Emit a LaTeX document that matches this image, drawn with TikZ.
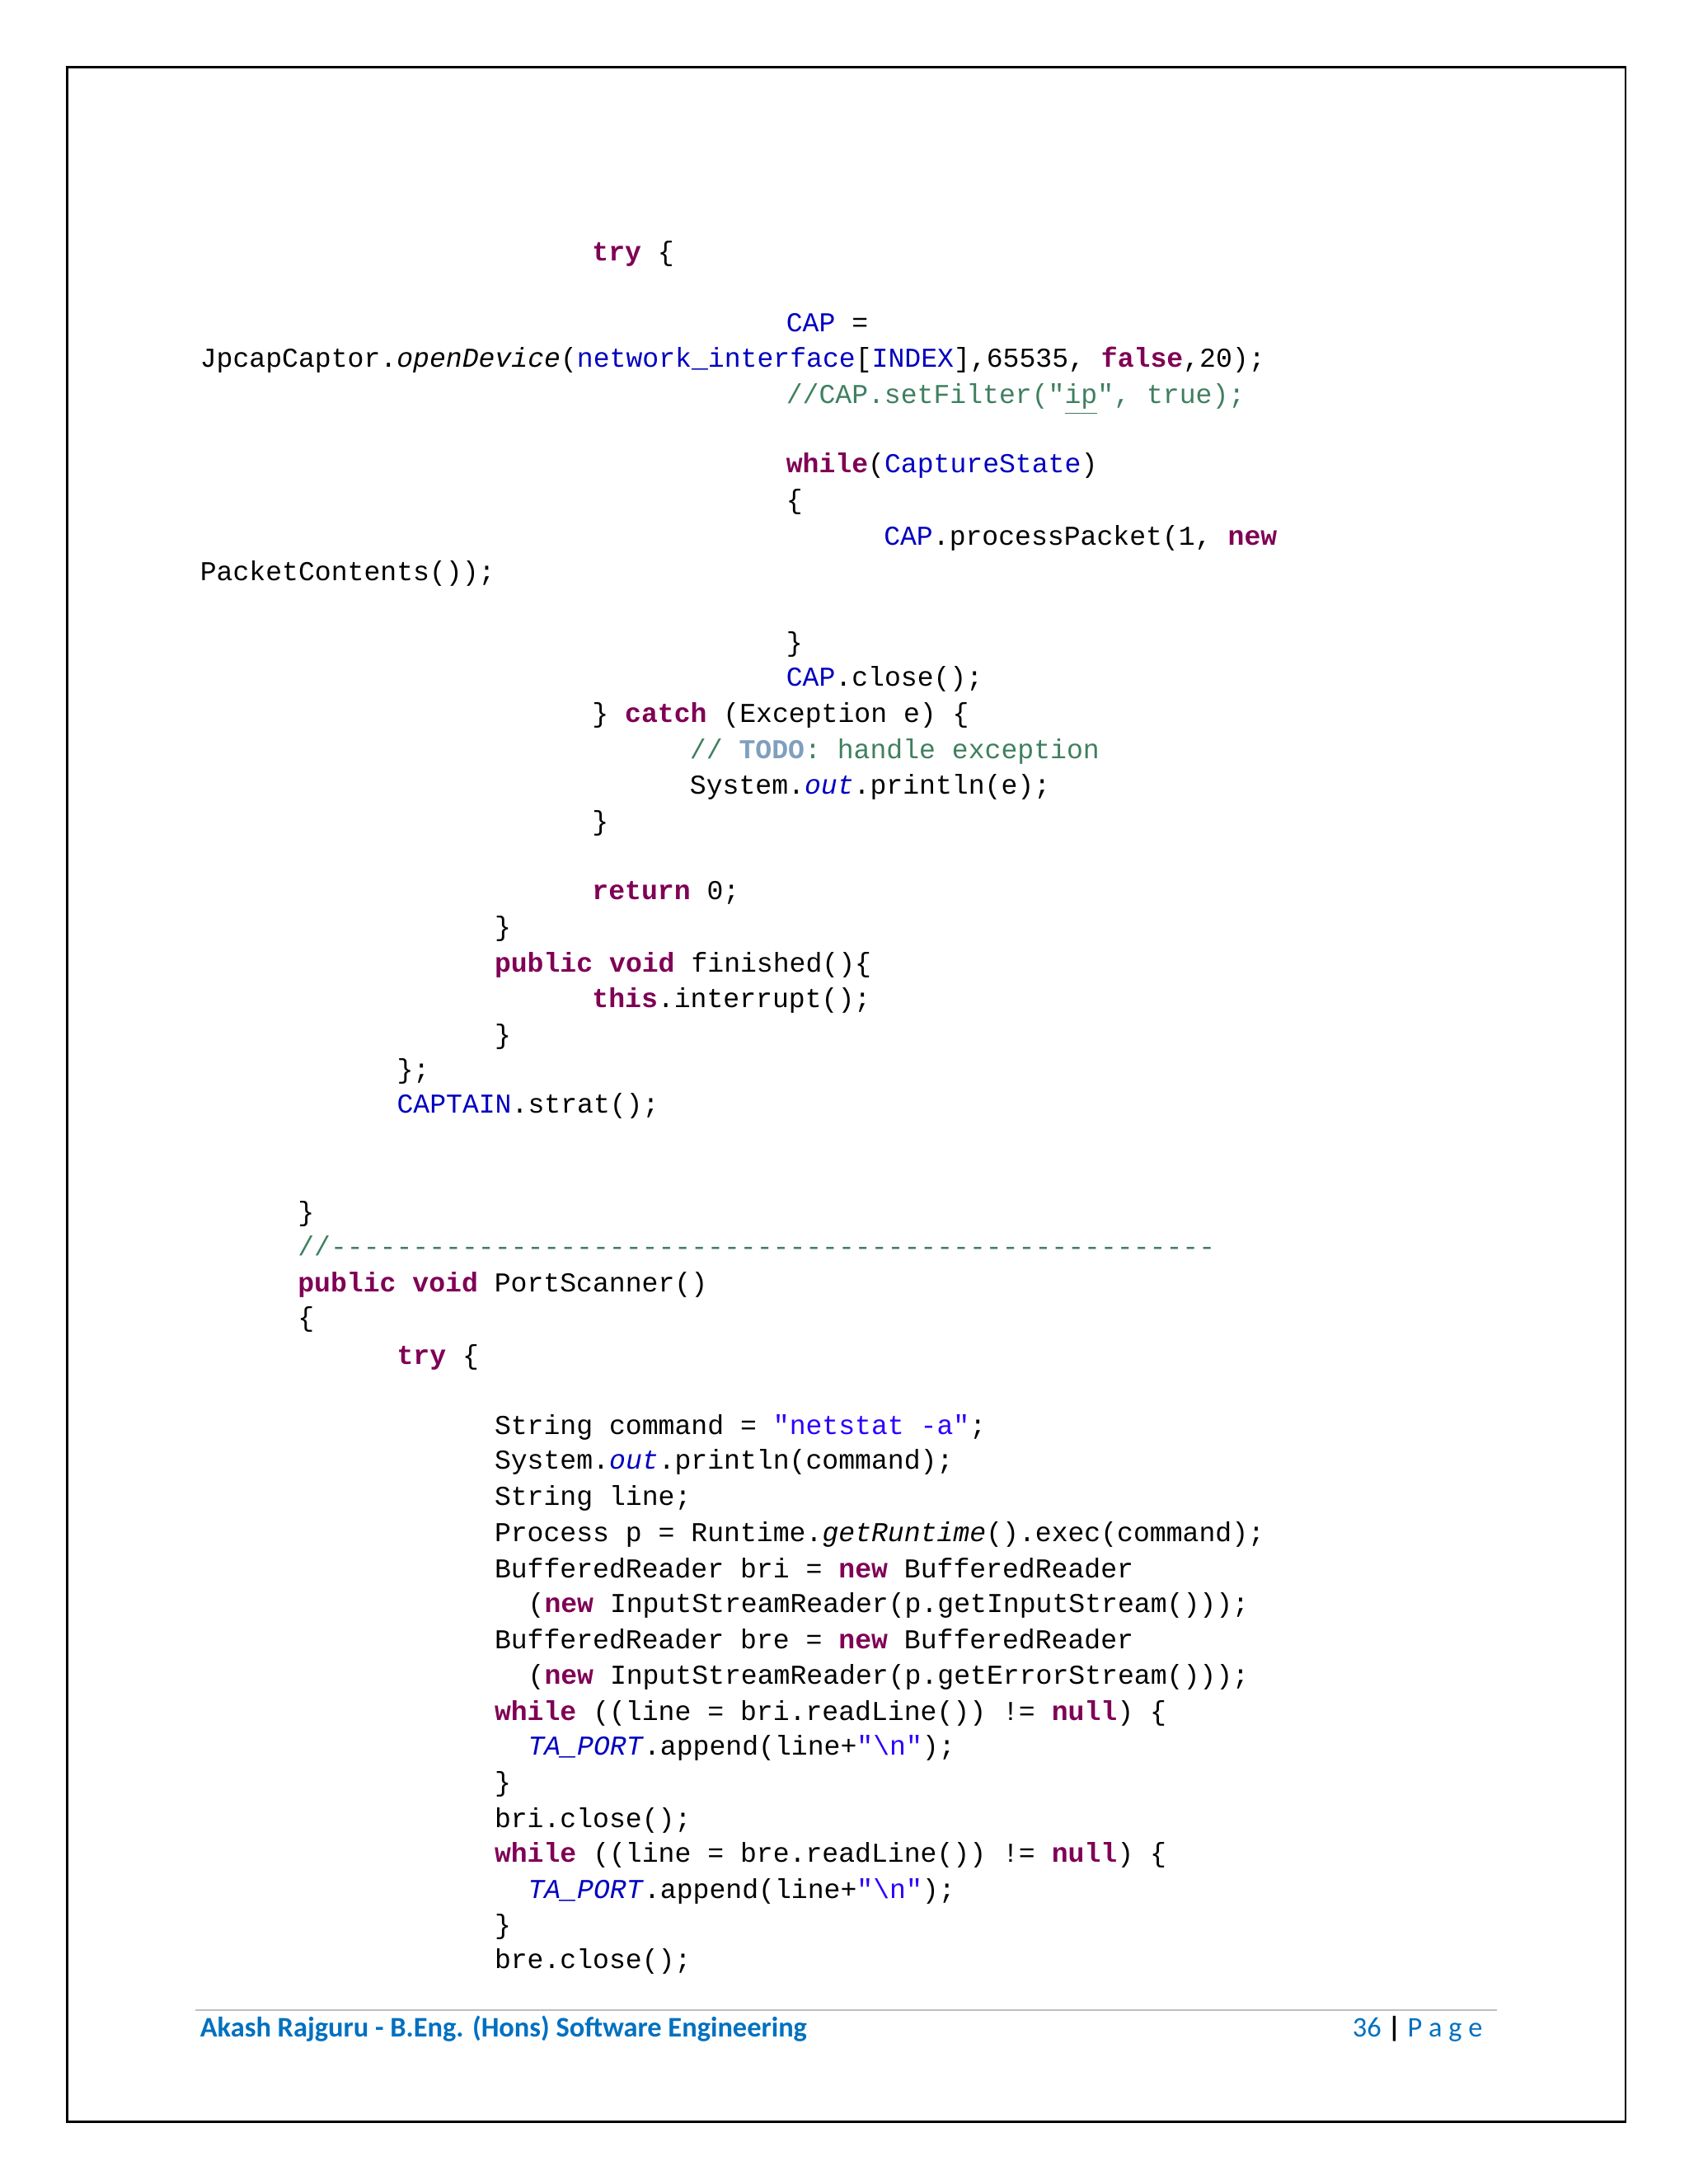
\documentclass[tikz,border=0pt]{standalone}
\usepackage{fontspec}
\newfontfamily\code{Liberation Mono}
\newfontfamily\foot{Carlito}
\definecolor{kwc}{HTML}{7F0055}
\definecolor{fdc}{HTML}{0000C0}
\definecolor{cmc}{HTML}{3F7F5F}
\definecolor{stc}{HTML}{2A00FF}
\definecolor{tdc}{HTML}{7F9FBF}
\definecolor{ftc}{HTML}{0070C0}
\newcommand{\kw}[1]{\textcolor{kwc}{\bfseries #1}}
\newcommand{\fd}[1]{\textcolor{fdc}{#1}}
\newcommand{\cm}[1]{\textcolor{cmc}{#1}}
\newcommand{\st}[1]{\textcolor{stc}{#1}}
\newcommand{\codeln}[4]{\node[cl] (#1) at (#2,#3+6) {#4};}
\begin{document}
\begin{tikzpicture}[x=0.42315pt,y=-0.42315pt,
  cl/.style={anchor=base west,inner sep=0pt,font=\code\fontsize{8.28pt}{10pt}\selectfont}]
\useasboundingbox (0,0) rectangle (1210,1565.6);
\draw[line width=0.7pt] (48,48) rectangle (1165,1521);
\codeln{a1}{424}{181}{\kw{try} \{}
\codeln{a2}{563}{232}{\fd{CAP} =}
\codeln{a3}{143}{257}{JpcapCaptor.\textit{openDevice}(\fd{network\_interface}[\fd{INDEX}],65535, \kw{false},20);}
\codeln{a4}{563}{283}{\cm{//CAP.setFilter("\underline{ip}", true);}}
\codeln{a5}{563}{333}{\kw{while}(\fd{CaptureState})}
\codeln{a6}{563}{359}{\{}
\codeln{a7}{633}{385}{\fd{CAP}.processPacket(1, \kw{new}}
\codeln{a8}{143}{410}{PacketContents());}
\codeln{a9}{563}{461}{\}}
\codeln{a10}{563}{486}{\fd{CAP}.close();}
\codeln{a11}{424}{512}{\} \kw{catch} (Exception e) \{}
\codeln{a12}{494}{538}{\cm{// }\textcolor{tdc}{\bfseries TODO}\cm{: handle exception}}
\codeln{a13}{494}{563}{System.\fd{\textit{out}}.println(e);}
\codeln{a14}{424}{589}{\}}
\codeln{a15}{424}{639}{\kw{return} 0;}
\codeln{a16}{354}{665}{\}}
\codeln{a17}{354}{691}{\kw{public} \kw{void} finished()\{}
\codeln{a18}{424}{716}{\kw{this}.interrupt();}
\codeln{a19}{354}{742}{\}}
\codeln{a20}{284}{767}{\};}
\codeln{a21}{284}{792}{\fd{CAPTAIN}.strat();}
\codeln{b1}{213}{869}{\}}
\codeln{b2}{213}{894}{\cm{//------------------------------------------------------}}
\codeln{b3}{213}{920}{\kw{public} \kw{void} PortScanner()}
\codeln{b4}{213}{945}{\{}
\codeln{b5}{284}{972}{\kw{try} \{}
\codeln{b6}{354}{1022}{String command = \st{"netstat -a"};}
\codeln{b7}{354}{1047}{System.\fd{\textit{out}}.println(command);}
\codeln{b8}{354}{1073}{String line;}
\codeln{b9}{354}{1099}{Process p = Runtime.\textit{getRuntime}().exec(command);}
\codeln{b10}{354}{1125}{BufferedReader bri = \kw{new} BufferedReader}
\codeln{b11}{378}{1150}{(\kw{new} InputStreamReader(p.getInputStream()));}
\codeln{b12}{354}{1176}{BufferedReader bre = \kw{new} BufferedReader}
\codeln{b13}{378}{1201}{(\kw{new} InputStreamReader(p.getErrorStream()));}
\codeln{b14}{354}{1227}{\kw{while} ((line = bri.readLine()) != \kw{null}) \{}
\codeln{b15}{378}{1252}{\fd{\textit{TA\_PORT}}.append(line+\st{"\textbackslash n"});}
\codeln{b16}{354}{1278}{\}}
\codeln{b17}{354}{1304}{bri.close();}
\codeln{b18}{354}{1329}{\kw{while} ((line = bre.readLine()) != \kw{null}) \{}
\codeln{b19}{378}{1355}{\fd{\textit{TA\_PORT}}.append(line+\st{"\textbackslash n"});}
\codeln{b20}{354}{1380}{\}}
\codeln{b21}{354}{1405}{bre.close();}
\draw[gray!50,line width=0.5pt] (140,1441) -- (1073,1441);
\node[anchor=base west,inner sep=0pt,text=ftc,font=\foot\bfseries\fontsize{8.6pt}{10pt}\selectfont] (f1) at (143,1460) {Akash Rajguru - B.Eng. (Hons) Software Engineering};
\node[anchor=base east,inner sep=0pt,text=ftc,font=\foot\fontsize{8.6pt}{10pt}\selectfont] (f2) at (1063,1460) {36 \textcolor{black}{\bfseries|} P a g e};
\end{tikzpicture}
\end{document}
